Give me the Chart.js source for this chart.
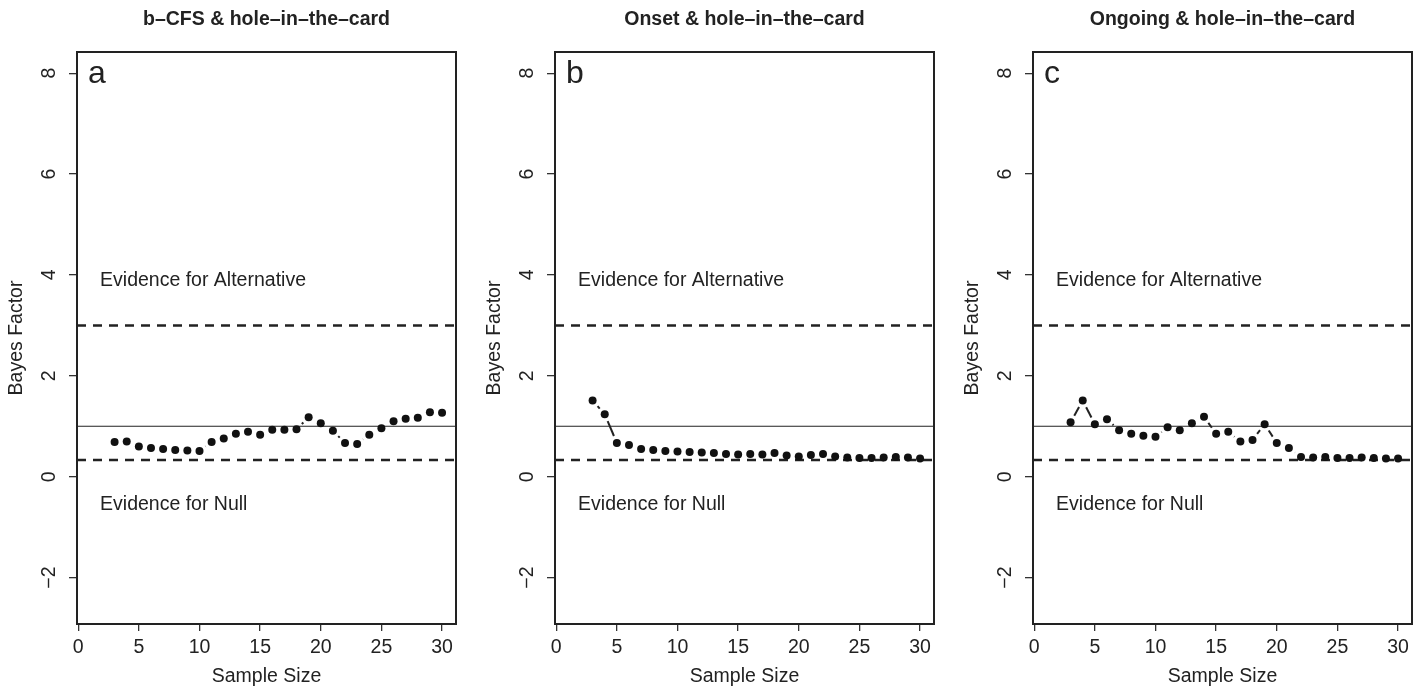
<!DOCTYPE html>
<html>
<head>
<meta charset="utf-8">
<script src="https://cdn.jsdelivr.net/npm/chart.js@4.4.0/dist/chart.umd.min.js"></script>
<style>
  html, body { margin: 0; padding: 0; background: #fff; overflow: hidden; }
  .panel { position: absolute; top: 0; width: 470px; height: 689px; }
</style>
</head>
<body>
<div class="panel" style="left:0px"><canvas id="chartA"></canvas></div>
<div class="panel" style="left:478px"><canvas id="chartB"></canvas></div>
<div class="panel" style="left:956px"><canvas id="chartC"></canvas></div>
<script>
// data
var sampleSizes = [3, 4, 5, 6, 7, 8, 9, 10, 11, 12, 13, 14, 15, 16, 17, 18, 19, 20, 21, 22, 23, 24, 25, 26, 27, 28, 29, 30];
var bfCfs = [0.69, 0.70, 0.60, 0.57, 0.55, 0.53, 0.52, 0.51, 0.69, 0.76, 0.85, 0.89, 0.83, 0.93, 0.93, 0.94, 1.18, 1.06, 0.91, 0.67, 0.65, 0.83, 0.96, 1.10, 1.15, 1.17, 1.28, 1.27];
var bfOnset = [1.51, 1.24, 0.67, 0.63, 0.55, 0.53, 0.51, 0.50, 0.49, 0.48, 0.47, 0.45, 0.44, 0.45, 0.44, 0.47, 0.42, 0.40, 0.43, 0.45, 0.40, 0.38, 0.37, 0.37, 0.38, 0.39, 0.38, 0.36];
var bfOngoing = [1.08, 1.51, 1.04, 1.14, 0.92, 0.85, 0.81, 0.79, 0.98, 0.92, 1.06, 1.19, 0.85, 0.89, 0.70, 0.73, 1.04, 0.67, 0.57, 0.39, 0.38, 0.39, 0.37, 0.37, 0.38, 0.37, 0.36, 0.36];

var titles = ['b\u2013CFS & hole\u2013in\u2013the\u2013card', 'Onset & hole\u2013in\u2013the\u2013card', 'Ongoing & hole\u2013in\u2013the\u2013card'];
var letters = ['a', 'b', 'c'];
var xTicks = [0, 5, 10, 15, 20, 25, 30];
var yTicks = [-2, 0, 2, 4, 6, 8];
var dashedLines = [3, 1 / 3];
var solidLines = [1];
var labelAlt = 'Evidence for Alternative';
var labelNull = 'Evidence for Null';

var FONT = 'Liberation Sans, Arial, Helvetica, sans-serif';
var INK = '#222';

// extra drawing: reference lines, gapped joins, frame, labels
var bfDecor = {
  id: 'bfDecor',
  beforeDatasetsDraw: function (chart) {
    var ctx = chart.ctx, a = chart.chartArea, y = chart.scales.y;
    ctx.save();
    ctx.beginPath();
    ctx.rect(a.left, a.top, a.right - a.left, a.bottom - a.top);
    ctx.clip();
    ctx.strokeStyle = INK;
    ctx.lineWidth = 2.5;
    ctx.setLineDash([9, 7]);
    dashedLines.forEach(function (v) {
      var py = y.getPixelForValue(v);
      ctx.beginPath(); ctx.moveTo(a.left, py); ctx.lineTo(a.right, py); ctx.stroke();
    });
    ctx.setLineDash([]);
    ctx.lineWidth = 1.2;
    solidLines.forEach(function (v) {
      var py = y.getPixelForValue(v);
      ctx.beginPath(); ctx.moveTo(a.left, py); ctx.lineTo(a.right, py); ctx.stroke();
    });
    // joins between points, with a gap at each point (like type = "b")
    var pts = chart.getDatasetMeta(0).data;
    var gap = 7.5;
    ctx.lineWidth = 2;
    for (var i = 1; i < pts.length; i++) {
      var p0 = pts[i - 1], p1 = pts[i];
      var dx = p1.x - p0.x, dy = p1.y - p0.y;
      var d = Math.sqrt(dx * dx + dy * dy);
      if (d <= 2 * gap) continue;
      var ux = dx / d, uy = dy / d;
      ctx.beginPath();
      ctx.moveTo(p0.x + ux * gap, p0.y + uy * gap);
      ctx.lineTo(p1.x - ux * gap, p1.y - uy * gap);
      ctx.stroke();
    }
    ctx.restore();
  },
  afterDraw: function (chart, args, opts) {
    var ctx = chart.ctx, a = chart.chartArea, x = chart.scales.x, y = chart.scales.y;
    ctx.save();
    ctx.strokeStyle = INK;
    ctx.lineWidth = 2;
    ctx.strokeRect(a.left, a.top, a.right - a.left, a.bottom - a.top);

    ctx.fillStyle = INK;
    // rotated y tick labels
    ctx.font = '19.5px ' + FONT;
    ctx.textAlign = 'center';
    ctx.textBaseline = 'middle';
    y.ticks.forEach(function (t) {
      var py = y.getPixelForValue(t.value);
      ctx.save();
      ctx.translate(a.left - 27, py);
      ctx.rotate(-Math.PI / 2);
      ctx.fillText(String(t.value).replace('-', '\u2212'), 0, 0);
      ctx.restore();
    });

    ctx.textAlign = 'left';
    ctx.textBaseline = 'alphabetic';
    ctx.fillText(labelAlt, x.getPixelForValue(1.8), y.getPixelForValue(3.79));
    ctx.fillText(labelNull, x.getPixelForValue(1.8), y.getPixelForValue(-0.66));

    ctx.font = '32px ' + FONT;
    ctx.fillText(opts.letter, x.getPixelForValue(0.8), y.getPixelForValue(7.8));
    ctx.restore();
  }
};

function makePanel(id, idx, values) {
  var pts = sampleSizes.map(function (n, i) { return { x: n, y: values[i] }; });
  return new Chart(document.getElementById(id), {
    type: 'scatter',
    data: {
      datasets: [{
        data: pts,
        showLine: false,
        pointRadius: 4,
        pointHoverRadius: 4,
        pointBackgroundColor: '#111',
        pointBorderWidth: 0
      }]
    },
    options: {
      responsive: true,
      maintainAspectRatio: false,
      animation: false,
      layout: { padding: { left: 0, top: 0, right: 14, bottom: 0 } },
      plugins: {
        legend: { display: false },
        tooltip: { enabled: false },
        title: {
          display: true,
          text: titles[idx],
          fullSize: false,
          color: INK,
          font: { family: FONT, size: 19.5, weight: 'bold' },
          padding: { top: 8.3, bottom: 20.3 }
        },
        bfDecor: { letter: letters[idx] }
      },
      scales: {
        x: {
          type: 'linear',
          min: -0.1,
          max: 31.15,
          afterBuildTicks: function (s) { s.ticks = xTicks.map(function (v) { return { value: v }; }); },
          afterFit: function (s) { s.height = 65; },
          border: { display: false },
          grid: { drawOnChartArea: false, drawTicks: true, tickLength: 7, tickColor: '#333', lineWidth: 1.3 },
          ticks: { color: INK, font: { family: FONT, size: 19.5 }, padding: 4.6, maxRotation: 0, autoSkip: false },
          title: { display: true, text: 'Sample Size', color: INK, font: { family: FONT, size: 19.5 }, padding: { top: 0, bottom: 0.6 } }
        },
        y: {
          type: 'linear',
          min: -2.92,
          max: 8.42,
          afterBuildTicks: function (s) { s.ticks = yTicks.map(function (v) { return { value: v }; }); },
          afterFit: function (s) { s.width = 77; },
          border: { display: false },
          grid: { drawOnChartArea: false, drawTicks: true, tickLength: 8, tickColor: '#333', lineWidth: 1.3 },
          ticks: { display: false },
          title: { display: true, text: 'Bayes Factor', color: INK, font: { family: FONT, size: 19.5 }, padding: { top: 5.3, bottom: 0 } }
        }
      }
    },
    plugins: [bfDecor]
  });
}

makePanel('chartA', 0, bfCfs);
makePanel('chartB', 1, bfOnset);
makePanel('chartC', 2, bfOngoing);
</script>
</body>
</html>
